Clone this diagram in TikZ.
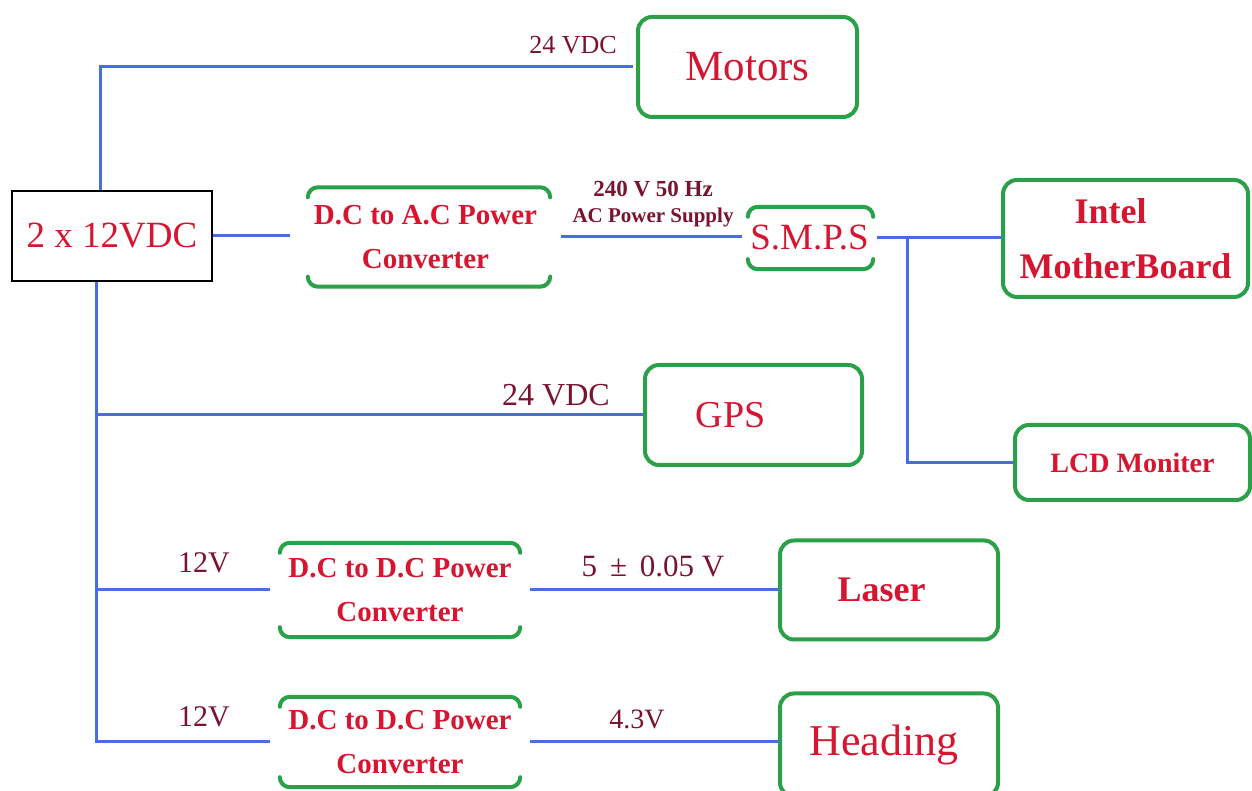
\documentclass[tikz,border=0pt]{standalone}
\usepackage{fontspec}
\setmainfont{Liberation Serif}
\definecolor{nred}{RGB}{214,22,48}
\definecolor{lred}{RGB}{120,20,45}
\definecolor{lblue}{RGB}{72,108,228}
\definecolor{bgreen}{RGB}{42,160,72}
\tikzset{
  bline/.style={lblue, line width=3pt},
  gline/.style={bgreen, line width=4pt, line cap=round},
  gbox/.style={draw=bgreen, line width=4pt, rounded corners=14pt, text=nred, align=center, inner sep=0pt},
  conv/.style={text=nred, align=center, inner sep=0pt, font=\bfseries\fontsize{29}{44}\selectfont},
  lbl/.style={text=lred, inner sep=0pt},
}
\newcommand\greenbrk[3]{%
  \draw[gline] ([xshift=#2]#1.north west) ++(0,-10) arc[start angle=180,end angle=90,radius=10] -- ([xshift=-#3-10]#1.north east) arc[start angle=90,end angle=0,radius=10];
  \draw[gline] ([xshift=#2]#1.south west) ++(0,10) arc[start angle=180,end angle=270,radius=10] -- ([xshift=-#3-10]#1.south east) arc[start angle=270,end angle=360,radius=10];
}
\begin{document}
\begin{tikzpicture}[x=1pt,y=1pt]
\path[fill=white,use as bounding box] (0,0) rectangle (1252,791);

% nodes
\node[draw=black, line width=1.8pt, minimum width=200pt, minimum height=90pt, inner sep=0pt, text=nred, font=\fontsize{37}{40}\selectfont] (src) at (112,555) {2 x 12VDC};
\node[gbox, minimum width=219pt, minimum height=100pt, font=\fontsize{43}{44}\selectfont] (mot) at (747.5,724) {Motors};
\node[conv, minimum width=271pt, minimum height=99pt] (dcac) at (425.5,554) {D.C to A.C Power\\Converter};
\node[conv, font=\fontsize{37}{40}\selectfont, minimum width=135pt, minimum height=62pt] (smps) at (809.5,553) {S.M.P.S};
\node[gbox, minimum width=245pt, minimum height=117pt, font=\bfseries\fontsize{36}{55}\selectfont] (intel) at (1125.5,552.5) {\hspace*{-30pt}Intel\\MotherBoard};
\node[gbox, minimum width=235pt, minimum height=75pt, font=\bfseries\fontsize{28}{30}\selectfont] (lcd) at (1132.5,328.5) {LCD Moniter};
\node[gbox, minimum width=217pt, minimum height=100pt, font=\fontsize{38}{40}\selectfont] (gps) at (753.5,376) {\hspace*{-46pt}GPS};
\node[conv, minimum width=260pt, minimum height=94pt] (dd1) at (400,201) {D.C to D.C Power\\Converter};
\node[gbox, minimum width=218pt, minimum height=99pt, font=\bfseries\fontsize{36}{40}\selectfont] (laser) at (889,201) {\hspace*{-15pt}Laser};
\node[conv, minimum width=260pt, minimum height=90pt] (dd2) at (400,49) {D.C to D.C Power\\Converter};
\node[gbox, minimum width=218pt, minimum height=103pt, font=\fontsize{44}{46}\selectfont] (head) at (889,46) {\hspace*{-10pt}Heading};

% converter brackets
\greenbrk{dcac}{18}{11}
\greenbrk{smps}{6}{4}
\greenbrk{dd1}{10}{10}
\greenbrk{dd2}{10}{10}

% connectors
\coordinate (tr) at ([xshift=-16pt]src.south);
\coordinate (tm) at ([xshift=-12pt]src.north);
\coordinate (brx) at (907,0);
\coordinate (br) at (smps.east -| brx);
\draw[bline] (tm) |- ([xshift=-3pt]mot.west);
\draw[bline] (src.east) -- (src.east -| dcac.west);
\draw[bline] (dcac.east) -- (dcac.east -| smps.west);
\draw[bline] (smps.east) -- (smps.east -| intel.west);
\draw[bline] (br) |- (lcd.west);
\draw[bline] (tr) |- (dd2.west);
\draw[bline] (gps.west) -- (gps.west -| tr);
\draw[bline] (dd1.west) -- (dd1.west -| tr);
\draw[bline] (dd1.east) -- (dd1.east -| laser.west);
\draw[bline] (dd2.east) -- (dd2.east -| head.west);

% labels
\node[lbl, font=\fontsize{26}{28}\selectfont] (l1) at (573,746) {24 VDC};
\node[lbl, font=\bfseries\fontsize{23}{25}\selectfont] (l2) at (653,602) {240 V 50 Hz};
\node[lbl, font=\bfseries\fontsize{21}{23}\selectfont] (l3) at (653,574) {AC Power Supply};
\node[lbl, font=\fontsize{32}{34}\selectfont] (l4) at (556,396) {24 VDC};
\node[lbl, font=\fontsize{30}{32}\selectfont] (l5) at (204,228) {12V};
\node[lbl, font=\fontsize{30}{32}\selectfont] (l6) at (204,74) {12V};
\node[lbl, font=\fontsize{31}{33}\selectfont] (l7) at (653,225) {5 \,±\, 0.05 V};
\node[lbl, font=\fontsize{28}{30}\selectfont] (l8) at (637,72) {4.3V};
\end{tikzpicture}
\end{document}
